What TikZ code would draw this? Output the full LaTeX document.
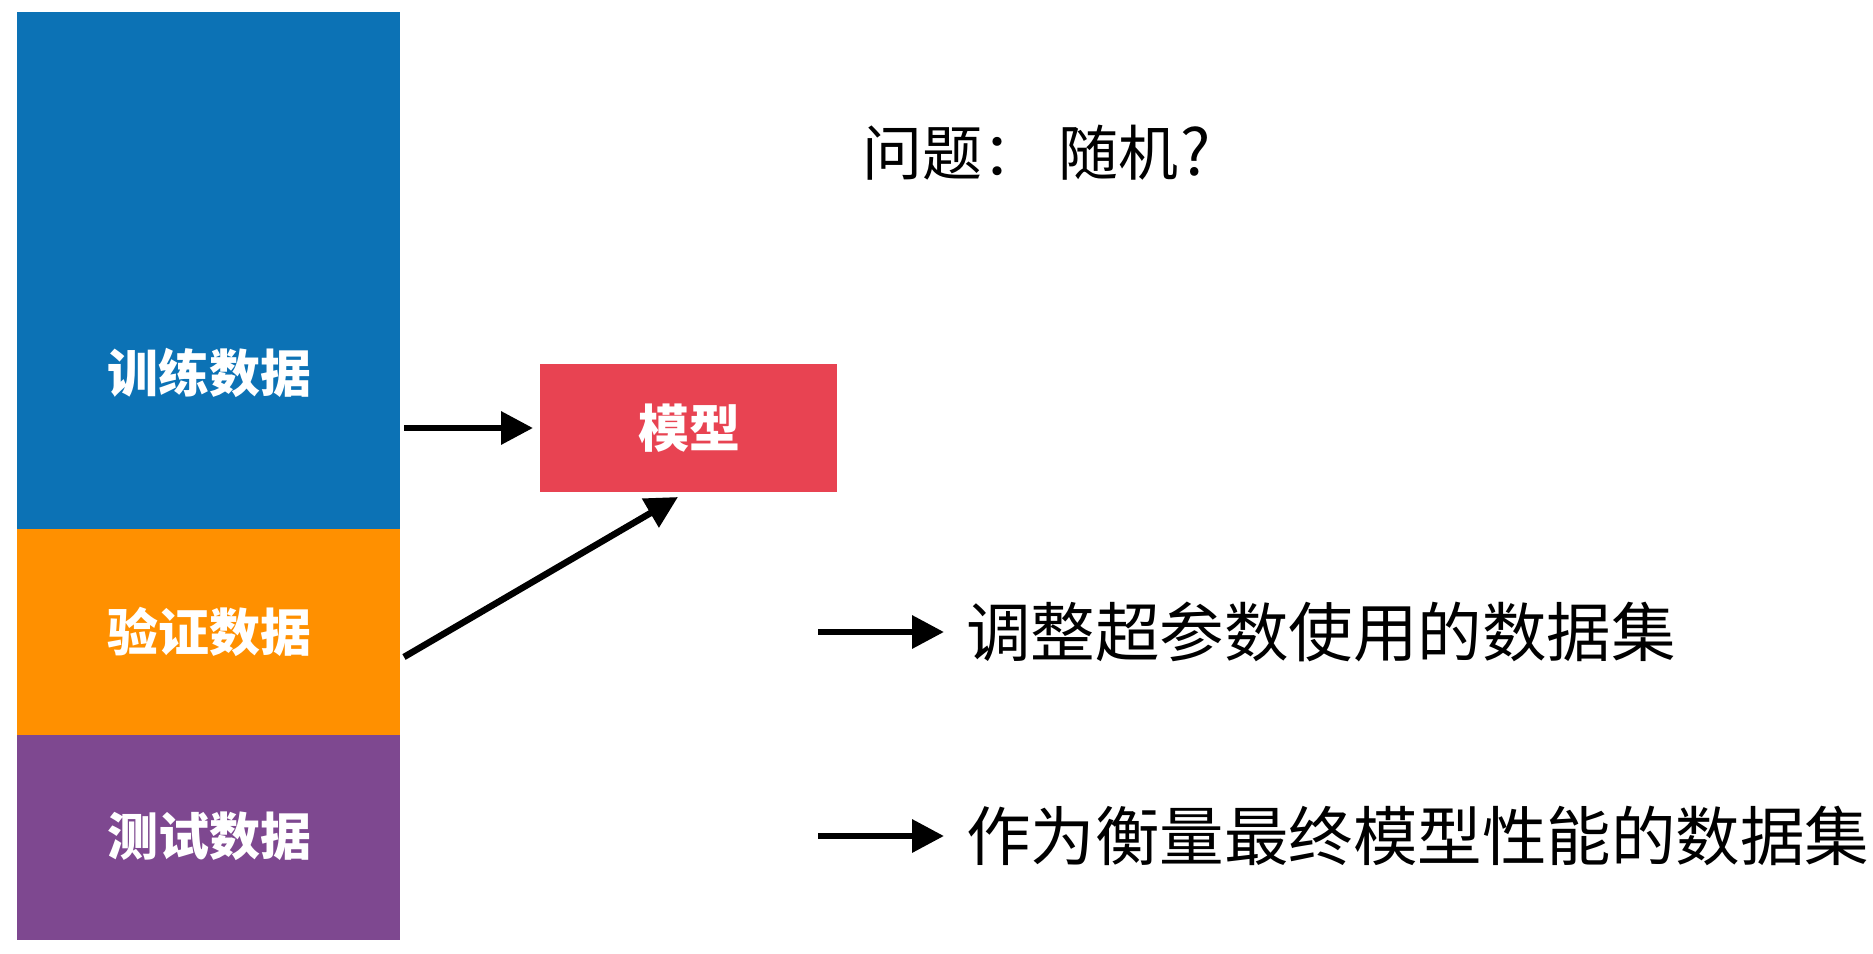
\documentclass[tikz,border=0pt]{standalone}
\usepackage{fontspec}
\newfontfamily\cjk{Noto Sans CJK SC}
\usetikzlibrary{arrows.meta}
\definecolor{cblue}{RGB}{12,114,181}
\definecolor{corange}{RGB}{255,144,0}
\definecolor{cpurple}{RGB}{126,72,144}
\definecolor{cred}{RGB}{232,67,82}
\tikzset{
  block/.style={draw=none, inner sep=0pt, outer sep=0pt},
  boxlabel/.style={text=white, inner sep=0pt, font=\cjk\bfseries\fontsize{51pt}{60pt}\selectfont},
  plain/.style={text=black, inner sep=0pt, font=\cjk\fontsize{64.5pt}{74pt}\selectfont},
  arr/.style={line width=6.5pt, -{Triangle[length=32pt,width=32pt]}},
}
\begin{document}
\begin{tikzpicture}[x=1pt,y=-1pt]
\useasboundingbox[fill=white] (0,0) rectangle (1873,953);
% stacked data blocks
\node[block, fill=cblue, minimum width=383pt, minimum height=517pt] (train) at (208.5,270.5) {};
\node[block, fill=corange, minimum width=383pt, minimum height=206pt] (val) at (208.5,632) {};
\node[block, fill=cpurple, minimum width=383pt, minimum height=205pt] (test) at (208.5,837.5) {};
\node[boxlabel] (trainlbl) at (209,373) {训练数据};
\node[boxlabel] (vallbl) at (209,632) {验证数据};
\node[boxlabel] (testlbl) at (209,836) {测试数据};
% model
\node[block, fill=cred, minimum width=297pt, minimum height=128pt] (model) at (688.5,428) {};
\node[boxlabel] (modellbl) at (689,428) {模型};
% question
\node[plain, font=\cjk\fontsize{60pt}{70pt}\selectfont, anchor=west] (question) at (862,153) {问题：\hspace{16pt}随机\hspace{2pt}{\fontsize{64pt}{70pt}\selectfont ?}};
% arrows into model
\coordinate (t1) at (train.east |- model.west);
\draw[arr, shorten >=7pt] ([xshift=4pt]t1) -- (model.west);
\coordinate (v1) at (404,657);
\coordinate (m1) at (678,497);
\draw[arr] (v1) -- (m1);
% right side descriptions
\node[plain, anchor=west] (desc1) at (966,632) {调整超参数使用的数据集};
\node[plain, anchor=west] (desc2) at (966,836) {作为衡量最终模型性能的数据集};
\coordinate (a1) at (818,632);
\coordinate (a2) at (818,836);
\draw[arr, shorten >=22pt] (a1) -- (desc1.west);
\draw[arr, shorten >=22pt] (a2) -- (desc2.west);
\end{tikzpicture}
\end{document}
